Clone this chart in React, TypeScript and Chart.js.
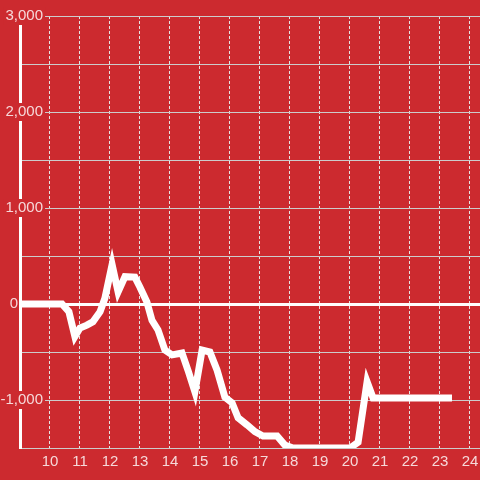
import React, { useEffect, useRef } from "react";
import { Chart, registerables } from "chart.js";

Chart.register(...registerables);

const hours = [8.8, 10.4, 10.63, 10.83, 11.0, 11.23, 11.43, 11.67, 11.83, 12.07, 12.27, 12.5, 12.83, 13.0, 13.23, 13.4, 13.6, 13.83, 14.07, 14.4, 14.6, 14.83, 15.07, 15.33, 15.57, 15.83, 16.07, 16.27, 16.57, 16.83, 17.1, 17.57, 17.83, 18.1, 20.0, 20.27, 20.57, 20.77, 23.4];
const values = [0, 0, -80, -340, -250, -220, -185, -80, 60, 410, 125, 285, 280, 175, 20, -170, -270, -480, -530, -510, -690, -915, -480, -500, -690, -970, -1030, -1185, -1260, -1330, -1375, -1375, -1470, -1500, -1500, -1440, -810, -980, -980];
const xTickLabels = [10, 11, 12, 13, 14, 15, 16, 17, 18, 19, 20, 21, 22, 23, 24];
const yTickLabels = [-1000, 0, 1000, 2000, 3000];

const BG = "rgb(204,42,47)";
const LABEL = "rgba(255,255,255,0.82)";
const FONT = { size: 15, family: "'Liberation Sans', Arial, Helvetica, sans-serif" };

export default function App() {
  const ref = useRef<HTMLCanvasElement | null>(null);
  useEffect(() => {
    if (!ref.current) return;
    const chart = new Chart(ref.current, {
      type: "line",
      data: {
        datasets: [
          {
            data: hours.map((h, i) => ({ x: h, y: values[i] })),
            borderColor: "#ffffff",
            borderWidth: 7,
            pointRadius: 0,
            tension: 0,
            fill: false,
          },
        ],
      },
      options: {
        animation: false,
        responsive: false,
        maintainAspectRatio: false,
        layout: { padding: { top: 16, right: 0, bottom: 0, left: 0 } },
        plugins: { legend: { display: false }, tooltip: { enabled: false } },
        scales: {
          x: {
            type: "linear",
            min: 9,
            max: 24.334,
            afterFit: (s: any) => {
              s.height = 32;
              s.paddingLeft = 0;
              s.paddingRight = 0;
            },
            grid: {
              drawTicks: false,
              color: (ctx: any) =>
                xTickLabels.includes(ctx.tick?.value) ? "#e4e4e4" : "rgba(0,0,0,0)",
              lineWidth: 1,
            },
            border: { display: true, color: "#cccccc", width: 1, dash: [3, 2] },
            ticks: {
              stepSize: 1,
              includeBounds: false,
              autoSkip: false,
              maxRotation: 0,
              padding: 5,
              color: LABEL,
              font: FONT,
              callback: (v: any) => (xTickLabels.includes(v) ? String(v) : ""),
            },
          },
          y: {
            min: -1500,
            max: 3000,
            afterFit: (s: any) => {
              s.width = 20;
            },
            grid: {
              drawTicks: false,
              color: (ctx: any) => (ctx.tick?.value === 0 ? "#ffffff" : "#cccccc"),
              lineWidth: (ctx: any) => (ctx.tick?.value === 0 ? 3 : 1),
            },
            border: { display: true, color: "#ffffff", width: 3 },
            ticks: {
              stepSize: 500,
              mirror: true,
              crossAlign: "far",
              padding: -19.5,
              color: LABEL,
              font: FONT,
              showLabelBackdrop: (ctx: any) =>
                yTickLabels.includes(ctx.tick?.value) && ctx.tick?.value !== 0,
              backdropColor: BG,
              backdropPadding: { top: 0, bottom: 0, left: 2, right: 2 },
              callback: (v: any) => {
                if (!yTickLabels.includes(v)) return "";
                if (v === 0) return "0      ";
                return Number(v).toLocaleString("en-US");
              },
            },
          },
        },
      },
    });
    return () => chart.destroy();
  }, []);
  return (
    <div
      style={{
        position: "fixed",
        left: 0,
        top: 0,
        width: 480,
        height: 480,
        background: BG,
      }}
    >
      <canvas ref={ref} width={480} height={480} style={{ display: "block", width: 480, height: 480 }} />
    </div>
  );
}
